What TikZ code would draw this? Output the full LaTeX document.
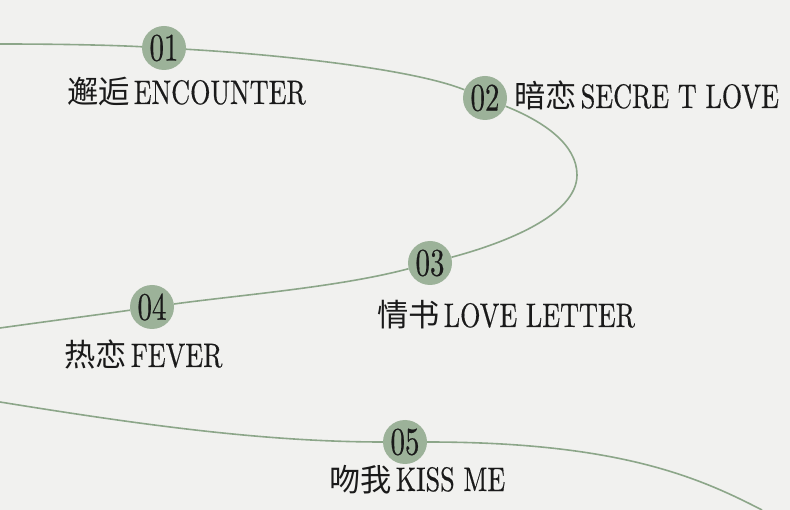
\documentclass[tikz,border=0pt]{standalone}
\usepackage{fontspec}
\newfontfamily\cjk{Noto Sans CJK SC}[Scale=0.92]
\newfontfamily\didone{lmroman10-regular.otf}[FakeStretch=0.77, FakeBold=0.4]
\newfontfamily\didonenum{lmroman10-regular.otf}[FakeStretch=0.74, FakeBold=0.4]
\usetikzlibrary{positioning}
\definecolor{paper}{HTML}{F1F1EF}
\definecolor{sage}{HTML}{9CB299}
\definecolor{sageline}{HTML}{8CA689}
\definecolor{ink}{HTML}{1A1A1A}

\begin{document}
\begin{tikzpicture}[
    x=1pt, y=-1pt,
    route/.style={draw=sageline, line width=1.6pt},
    badge/.style={circle, fill=sage, minimum size=44pt, inner sep=0pt, text=ink, font=\didonenum\fontsize{39}{39}\selectfont},
    caption/.style={anchor=base west, inner sep=0pt, text=ink, font=\didone\fontsize{34}{34}\selectfont}
]

% Paper
\fill[paper] (0,0) rectangle (790,510);
\useasboundingbox (0,0) rectangle (790,510);

% Loose ends of the route
\coordinate (in1) at (0,44);
\coordinate (turn) at (577,175);
\coordinate (out1) at (0,328);
\coordinate (in2) at (0,402);
\coordinate (out2) at (762,510);

% Stops
\node[badge] (s1) at (164,48) {01};
\node[badge] (s2) at (485,98) {02};
\node[badge] (s3) at (430,263) {03};
\node[badge] (s4) at (152,307) {04};
\node[badge] (s5) at (405,442) {05};

% Route
\draw[route] (in1) .. controls (55,44) and (110,45) .. (s1)
    (s1) .. controls (270,54) and (410,68) .. (s2)
    (s2) .. controls (545,122) and (577,145) .. (turn)
    .. controls (577,215) and (505,243) .. (s3)
    (s3) .. controls (340,287) and (240,295) .. (s4)
    (s4) .. controls (100,314.5) and (50,321) .. (out1);
\draw[route] (in2) .. controls (130,423) and (260,442) .. (s5)
    (s5) .. controls (620,442) and (700,478) .. (out2);

% Captions
\node[caption] (t1) at (67,104) {{\cjk 邂逅}\hspace{4pt}ENCOUNTER};
\node[caption] (t2) at (514,108) {{\cjk 暗恋}\hspace{4pt}SECRE T LOVE};
\node[caption] (t3) at (377,327) {{\cjk 情书}\hspace{4pt}LOVE LETTER};
\node[caption] (t4) at (64,367) {{\cjk 热恋}\hspace{4pt}FEVER};
\node[caption] (t5) at (329,491) {{\cjk 吻我}\hspace{4pt}KISS ME};

\end{tikzpicture}
\end{document}
